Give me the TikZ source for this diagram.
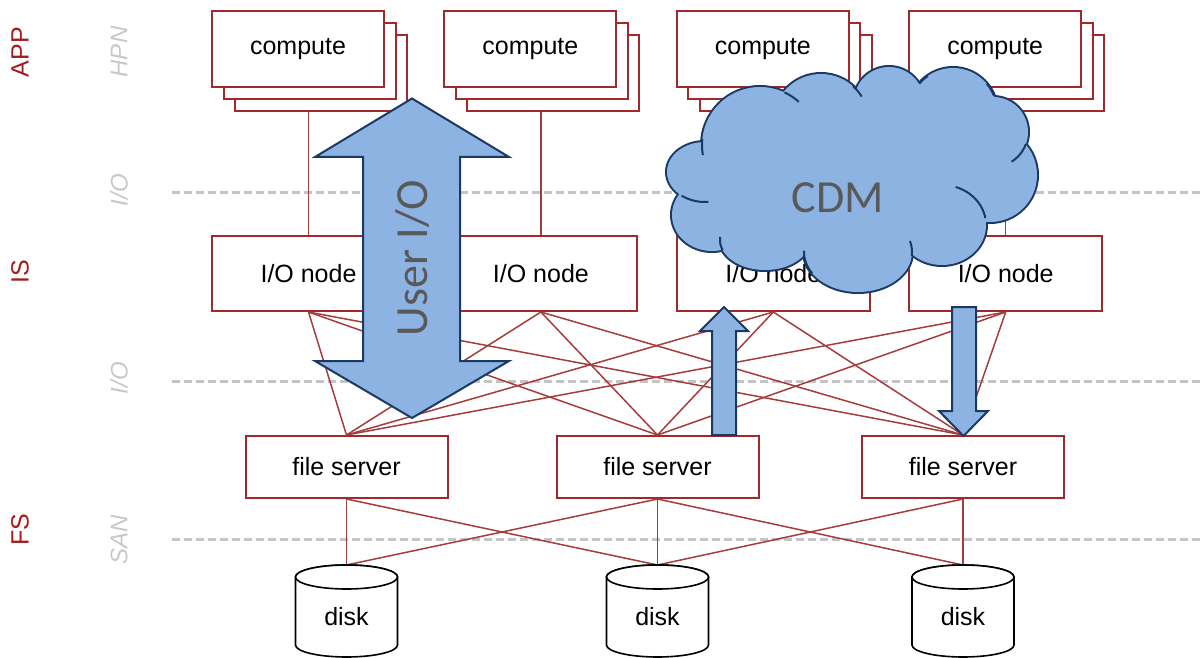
\documentclass[tikz,border=0pt]{standalone}
\usepackage{fontspec}
\setmainfont{Liberation Sans}
\newfontfamily\calibri{Carlito}
\usetikzlibrary{calc}

\definecolor{boxred}{HTML}{A3282B}
\definecolor{linkred}{HTML}{A63C3C}
\definecolor{tierred}{HTML}{A61C1C}
\definecolor{netgray}{HTML}{C8C8C8}
\definecolor{dashgray}{HTML}{C4C4C4}
\definecolor{cloudfill}{HTML}{8DB3E2}
\definecolor{cloudline}{HTML}{1B3A63}
\definecolor{biglabel}{HTML}{595959}

\tikzset{
  unit/.style={draw=boxred, line width=2pt, fill=white, inner sep=0pt,
    font=\fontsize{25}{30}\selectfont, text=black},
  computebox/.style={unit, minimum width=172pt, minimum height=76pt},
  ionode/.style={unit, minimum width=193pt, minimum height=75pt},
  fsnode/.style={unit, minimum width=202pt, minimum height=62pt},
  link/.style={draw=linkred, line width=1.5pt},
  tier/.style={rotate=90, text=tierred, inner sep=0pt, font=\fontsize{25}{30}\selectfont},
  net/.style={rotate=90, text=netgray, inner sep=0pt, font=\fontsize{24}{30}\selectfont\itshape},
  sep/.style={draw=dashgray, line width=3pt, dash pattern=on 8pt off 4pt},
  flow/.style={fill=cloudfill, draw=cloudline, line width=2pt, line join=miter},
  disk/.style={draw=black, line width=1.6pt, fill=white},
  bigtext/.style={text=biglabel, inner sep=0pt, font=\calibri\fontsize{46}{50}\selectfont},
  cloudedge/.style={draw=cloudline, line width=4pt},
  cloudinner/.style={draw=cloudline, line width=2pt},
}

\begin{document}
\begin{tikzpicture}[x=1pt,y=-1pt]
\useasboundingbox (0,0) rectangle (1202,658);

% tier names and network names
\node[tier] (app) at (20,52) {APP};
\node[tier] (is)  at (20,272) {IS};
\node[tier] (fs)  at (20,530) {FS};
\node[net] (hpn) at (119,52) {HPN};
\node[net] (ionetA) at (119,190) {I/O};
\node[net] (ionetB) at (119,378) {I/O};
\node[net] (san) at (119,540) {SAN};

% tier separators
\coordinate (sepAl) at (172,192); \coordinate (sepAr) at (1202,192);
\coordinate (sepBl) at (172,381); \coordinate (sepBr) at (1202,381);
\coordinate (sepCl) at (172,539); \coordinate (sepCr) at (1202,539);
\draw[sep] (sepAl) -- (sepAr);
\draw[sep] (sepBl) -- (sepBr);
\draw[sep] (sepCl) -- (sepCr);

% compute stacks and I/O nodes
\foreach \i/\px in {1/212,2/444.4,3/676.8,4/909.2} {
  \node[computebox] (cc\i) at (\px+109,73.5) {};
  \node[computebox] (cb\i) at (\px+97.5,61.25) {};
  \node[computebox] (ca\i) at (\px+86,49) {compute};
  \node[ionode] (io\i) at (\px+96.5,273.5) {I/O node};
  \draw[link] (io\i.north) -- (io\i.north |- cc\i.south);
}

% file servers
\node[fsnode] (fs1) at (346.5,467) {file server};
\node[fsnode] (fs2) at (657.5,467) {file server};
\node[fsnode] (fs3) at (963,467) {file server};

% I/O network: every I/O node to every file server
\foreach \i in {1,2,3,4} {
  \foreach \j in {1,2,3} {
    \draw[link] (io\i.south) -- (fs\j.north);
  }
}

% SAN links
\coordinate (dt1) at (346.5,565);
\coordinate (dt2) at (657.5,565);
\coordinate (dt3) at (963,565);
\foreach \j/\k in {1/1,1/2,2/1,2/2,2/3,3/2,3/3} {
  \draw[link] (fs\j.south) -- (dt\k);
}

% disks
\foreach \k/\px in {1/346.5,2/657.5,3/963} {
  \filldraw[disk] (\px-51,577) -- (\px-51,645)
    .. controls (\px-51,651.6) and (\px-28.2,657) .. (\px,657)
    .. controls (\px+28.2,657) and (\px+51,651.6) .. (\px+51,645)
    -- (\px+51,577)
    .. controls (\px+51,570.4) and (\px+28.2,565) .. (\px,565)
    .. controls (\px-28.2,565) and (\px-51,570.4) .. (\px-51,577) -- cycle;
  \draw[disk] (\px,577) ellipse [x radius=51, y radius=12];
  \node[font=\fontsize{25}{30}\selectfont, inner sep=0pt] (disk\k) at (\px,617) {disk};
}

% CDM cloud: outline of the lobes, then the fill over it
\def\lobes{760/145/58/58, 821/122/48/48, 889/102/35/35, 953/112/44/44,
  993/132/35/35, 990/175/47/47, 942/225/44/40, 858/252/54/40,
  765/240/45/30, 712/215/40/36, 705/172/38/30}
\foreach \cx/\cy/\rx/\ry in \lobes {
  \draw[cloudedge] (\cx,\cy) ellipse [x radius=\rx, y radius=\ry];
}
\foreach \cx/\cy/\rx/\ry in \lobes {
  \fill[cloudfill] (\cx,\cy) ellipse [x radius=\rx, y radius=\ry];
}
\fill[cloudfill] (850,180) ellipse [x radius=140, y radius=78];
% lobe arcs running on inside the cloud
\foreach \cx/\cy/\rx/\ry/\a/\b in {
  760/145/58/58/170/186, 760/145/58/58/-65/-48, 821/122/48/48/-48/-32,
  953/112/44/44/-140/-125, 953/112/44/44/-40/-22, 993/132/35/35/20/58,
  942/225/44/40/-72/-10, 858/252/54/40/-16/6, 858/252/54/40/148/182,
  765/240/45/30/160/186, 705/172/38/30/85/128} {
  \draw[cloudinner] plot[domain=\a:\b, samples=16, smooth]
    ({\cx+\rx*cos(\x)},{\cy+\ry*sin(\x)});
}
\node[bigtext] (cdm) at (838,198) {CDM};

% user I/O double arrow
\filldraw[flow] (412,98.5) -- (509,157) -- (460,157) -- (460,361) -- (509,361)
  -- (412,418) -- (315,361) -- (363,361) -- (363,157) -- (315,157) -- cycle;
\node[bigtext, rotate=90] (userio) at (413,258) {User I/O};

% data movement arrows
\filldraw[flow] (724,307) -- (748,331) -- (736,331) -- (736,435) -- (712,435)
  -- (712,331) -- (700,331) -- cycle;
\filldraw[flow] (952,307) -- (976,307) -- (976,411) -- (988,411) -- (963.5,436)
  -- (939,411) -- (952,411) -- cycle;
\end{tikzpicture}
\end{document}
